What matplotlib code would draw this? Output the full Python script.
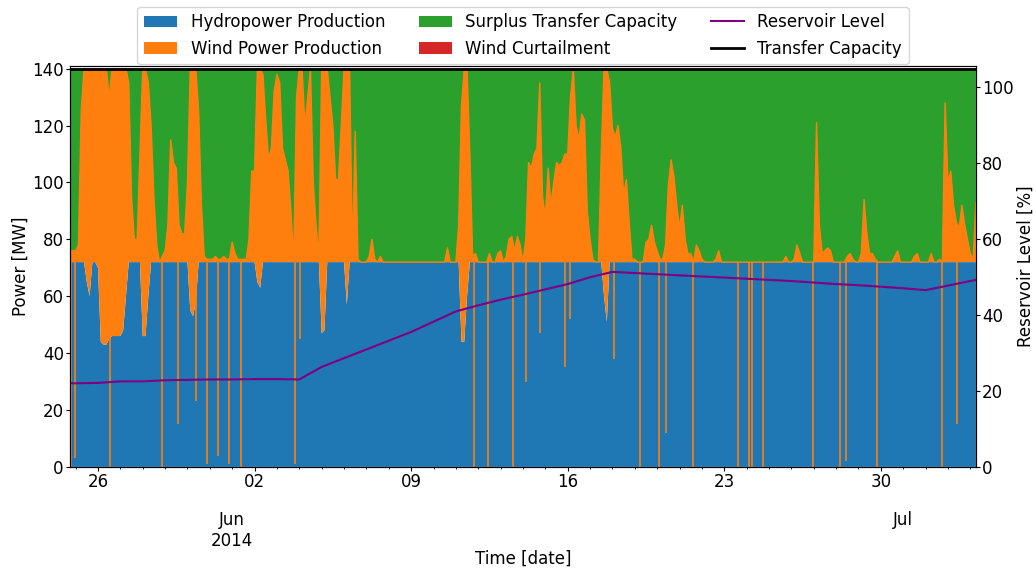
import matplotlib
matplotlib.use("Agg")
import matplotlib.pyplot as plt
import matplotlib.dates as mdates
from matplotlib.ticker import FuncFormatter
import numpy as np
import pandas as pd

plt.rcParams['font.size'] = 12

# 3-hourly samples, 2014-05-24 18:00 -> 2014-07-04 06:00
times = pd.date_range('2014-05-24 18:00', '2014-07-04 06:00', freq='3h')

hydro_mw = [
    72, 72,                              # May 24 (18h, 21h)
    72, 72, 72, 72, 65, 60, 72, 72,      # May 25
    70, 44, 43, 43, 45, 46, 46, 46,      # May 26
    46, 48, 60, 72, 72, 72, 72, 72,      # May 27
    46, 46, 60, 72, 72, 72, 72, 72,      # May 28
    72, 72, 72, 72, 72, 72, 72, 72,      # May 29
    72, 55, 53, 58, 72, 72, 72, 72,      # May 30
    72, 72, 72, 72, 72, 72, 72, 72,      # May 31
    72, 72, 72, 72, 72, 72, 72, 72,      # Jun 1
    72, 65, 63, 72, 72, 72, 72, 72,      # Jun 2
    72, 72, 72, 72, 72, 72, 72, 72,      # Jun 3
    72, 72, 72, 72, 72, 72, 72, 72,      # Jun 4
    47, 48, 72, 72, 72, 72, 72, 72,      # Jun 5
    72, 57, 72, 72, 72, 72, 72, 72,      # Jun 6
    72, 72, 72, 72, 72, 72, 72, 72,      # Jun 7
    72, 72, 72, 72, 72, 72, 72, 72,      # Jun 8
    72, 72, 72, 72, 72, 72, 72, 72,      # Jun 9
    72, 72, 72, 72, 72, 72, 72, 72,      # Jun 10
    72, 72, 44, 44, 60, 72, 72, 72,      # Jun 11
    72, 72, 72, 72, 72, 72, 72, 72,      # Jun 12
    72, 72, 72, 72, 72, 72, 72, 72,      # Jun 13
    72, 72, 72, 72, 72, 72, 72, 72,      # Jun 14
    72, 72, 72, 72, 72, 72, 72, 72,      # Jun 15
    72, 72, 72, 72, 72, 72, 72, 72,      # Jun 16
    72, 72, 72, 72, 72, 60, 51, 72,      # Jun 17
    72, 72, 72, 72, 72, 72, 72, 72,      # Jun 18
    72, 72, 72, 72, 72, 72, 72, 72,      # Jun 19
    72, 72, 72, 72, 72, 72, 72, 72,      # Jun 20
    72, 72, 72, 72, 72, 72, 72, 72,      # Jun 21
    72, 72, 72, 72, 72, 72, 72, 72,      # Jun 22
    72, 72, 72, 72, 72, 72, 72, 72,      # Jun 23
    72, 72, 72, 72, 72, 72, 72, 72,      # Jun 24
    72, 72, 72, 72, 72, 72, 72, 72,      # Jun 25
    72, 72, 72, 72, 72, 72, 72, 72,      # Jun 26
    72, 72, 72, 72, 72, 72, 72, 72,      # Jun 27
    72, 72, 72, 72, 72, 72, 72, 72,      # Jun 28
    72, 72, 72, 72, 72, 72, 72, 72,      # Jun 29
    72, 72, 72, 72, 72, 72, 72, 72,      # Jun 30
    72, 72, 72, 72, 72, 72, 72, 72,      # Jul 1
    72, 72, 72, 72, 72, 72, 72, 72,      # Jul 2
    72, 72, 72, 72, 72, 72, 72, 72,      # Jul 3
    72, 72, 72,                          # Jul 4 (0h, 3h, 6h)
]

wind_mw = [
    4, 4,                                # May 24
    4, 6, 53, 68, 75, 80, 68, 68,        # May 25
    70, 96, 97, 97, 85, 94, 94, 94,      # May 26
    94, 92, 80, 63, 23, 8, 8, 38,        # May 27
    94, 94, 75, 48, 23, 6, 0, 2,         # May 28
    4, 13, 43, 35, 33, 13, 10, 10,       # May 29
    28, 85, 87, 82, 53, 20, 2, 1,        # May 30
    1, 1, 2, 1, 1, 2, 1, 1,              # May 31
    7, 3, 1, 1, 1, 1, 8, 32,             # Jun 1
    32, 75, 77, 66, 50, 36, 40, 60,      # Jun 2
    66, 63, 40, 36, 32, 18, 1, 58,       # Jun 3
    68, 68, 48, 58, 68, 28, 13, 2,       # Jun 4
    93, 92, 68, 58, 48, 29, 29, 48,      # Jun 5
    68, 83, 68, 3, 46, 1, 0, 0,          # Jun 6
    0, 2, 8, 1, 0, 2, 0, 0,              # Jun 7
    0, 0, 0, 0, 0, 0, 0, 0,              # Jun 8
    0, 0, 0, 0, 0, 0, 0, 0,              # Jun 9
    0, 0, 0, 0, 0, 5, 0, 0,              # Jun 10
    0, 13, 83, 96, 80, 38, 2, 3,         # Jun 11
    0, 0, 0, 0, 3, 0, 0, 3,              # Jun 12
    4, 0, 2, 8, 9, 4, 9, 6,              # Jun 13
    0, 8, 35, 33, 38, 40, 63, 23,        # Jun 14
    16, 33, 20, 28, 35, 34, 35, 38,      # Jun 15
    38, 58, 68, 48, 43, 52, 50, 18,      # Jun 16
    8, 1, 0, 0, 38, 80, 89, 63,          # Jun 17
    47, 44, 48, 40, 24, 29, 14, 1,       # Jun 18
    1, 0, 0, 0, 7, 8, 13, 7,             # Jun 19
    4, 1, 1, 6, 27, 36, 30, 20,          # Jun 20
    12, 20, 8, 3, 3, 0, 6, 4,            # Jun 21
    1, 0, 0, 0, 0, 1, 4, 0,              # Jun 22
    0, 0, 0, 0, 0, 0, 0, 0,              # Jun 23
    0, 0, 0, 0, 0, 0, 0, 0,              # Jun 24
    0, 0, 0, 0, 0, 0, 2, 0,              # Jun 25
    0, 1, 6, 3, 0, 0, 0, 0,              # Jun 26
    0, 49, 13, 3, 4, 5, 4, 0,            # Jun 27
    0, 0, 0, 0, 2, 3, 1, 0,              # Jun 28
    0, 3, 22, 10, 3, 3, 1, 0,            # Jun 29
    0, 0, 0, 0, 0, 2, 4, 0,              # Jun 30
    0, 0, 0, 0, 2, 3, 0, 0,              # Jul 1
    0, 0, 3, 0, 0, 1, 0, 56,             # Jul 2
    28, 32, 20, 14, 12, 20, 13, 8,       # Jul 3
    3, 1, 21,                            # Jul 4
]

transfer_capacity = 140
hydro_rated = 72

# short hydro outages (single hours), level the hydro output dropped to
spike_times = pd.to_datetime([
    '2014-05-24 19:00', '2014-05-24 23:00', '2014-05-26 12:30', '2014-05-28 21:00',
    '2014-05-29 14:00', '2014-05-30 09:30', '2014-05-30 20:45', '2014-05-31 08:30',
    '2014-05-31 20:30', '2014-06-01 09:30', '2014-06-03 19:30', '2014-06-04 01:00',
    '2014-06-11 19:45', '2014-06-12 10:45', '2014-06-13 13:30', '2014-06-14 03:30',
    '2014-06-14 18:30', '2014-06-15 21:30', '2014-06-16 02:45', '2014-06-18 01:30',
    '2014-06-19 05:30', '2014-06-20 02:00', '2014-06-20 09:45', '2014-06-21 14:30',
    '2014-06-23 14:45', '2014-06-24 02:30', '2014-06-24 06:00', '2014-06-24 18:00',
    '2014-06-26 23:30', '2014-06-28 04:30', '2014-06-28 10:30', '2014-06-29 20:00',
    '2014-07-02 17:30', '2014-07-03 09:30'])
spike_levels = [0, 3, 0, 0, 15, 23, 1, 4, 1, 0, 1, 45, 0, 0, 0, 30, 47, 35, 52, 38,
                0, 0, 12, 0, 0, 0, 0, 0, 0, 0, 2, 0, 0, 15]

reservoir_times = pd.to_datetime(['2014-05-24 18:00']
                                 + list(pd.date_range('2014-05-25', '2014-07-04', freq='D'))
                                 + ['2014-07-04 06:00'])
reservoir_level = [
    22.0,
    22.0, 22.1, 22.5, 22.5, 22.8, 22.9, 23.0,              # May 25-31
    23.0, 23.1, 23.1, 23.0, 26.3, 28.6, 30.9, 33.2, 35.5,  # Jun 1-9
    38.2, 40.9, 42.5, 44.0, 45.3, 46.7, 48.1, 49.9, 51.3,  # Jun 10-18
    51.0, 50.7, 50.4, 50.1, 49.8, 49.5, 49.2, 48.9, 48.5,  # Jun 19-27
    48.1, 47.8, 47.4,                                      # Jun 28-30
    47.0, 46.5, 47.7, 48.9,                                # Jul 1-4
    49.2,
]

assert len(hydro_mw) == len(times) and len(wind_mw) == len(times)

x = times.to_numpy()
hydro = np.array(hydro_mw, dtype=float)
wind = np.array(wind_mw, dtype=float)
surplus = np.clip(transfer_capacity - hydro - wind, 0, None)
curtailment = np.clip(hydro + wind - transfer_capacity, 0, None)

fig, ax = plt.subplots(figsize=(10.36, 5.68), dpi=100)
fig.subplots_adjust(left=0.0676, right=0.942, bottom=0.178, top=0.884)

polys = ax.stackplot(x, hydro, wind, surplus, curtailment,
                     colors=['tab:blue', 'tab:orange', 'tab:green', 'tab:red'],
                     labels=['Hydropower Production', 'Wind Power Production',
                             'Surplus Transfer Capacity', 'Wind Curtailment'])
ax.plot(x, hydro + wind, color='tab:orange', lw=1)
ax.vlines(spike_times.to_numpy(), spike_levels, hydro_rated, color='tab:orange', lw=1.2)
cap_line, = ax.plot(x, np.full(len(x), transfer_capacity), color='black', lw=2,
                    label='Transfer Capacity')

ax.set_ylim(0, 141)
ax.set_yticks(range(0, 141, 20))
ax.set_ylabel('Power [MW]', labelpad=2)
ax.set_xlabel('Time [date]', labelpad=0)

ax2 = ax.twinx()
res_line, = ax2.plot(reservoir_times.to_numpy(), reservoir_level, color='purple', lw=1.5,
                     label='Reservoir Level')
ax2.set_ylim(0, 105.5)
ax2.set_ylabel('Reservoir Level [%]', labelpad=2)

ax.set_xlim(x[0], x[-1])

# date ticks: weekly (Mondays) day numbers, daily minor ticks, month names below
ax.xaxis.set_major_locator(mdates.WeekdayLocator(byweekday=mdates.MO))
ax.xaxis.set_major_formatter(mdates.DateFormatter('%d'))
ax.xaxis.set_minor_locator(mdates.DayLocator())
first_month = (times[0] + pd.offsets.MonthBegin(1)).month


def month_label(val, pos):
    d = mdates.num2date(val)
    if d.day != 1:
        return ''
    lab = d.strftime('%b')
    if d.month == first_month:
        lab += '\n' + d.strftime('%Y')
    return lab


ax.xaxis.set_minor_formatter(FuncFormatter(month_label))

for a in (ax, ax2):
    a.tick_params(which='major', length=3, pad=1.5)
    a.tick_params(which='minor', length=1.7)
ax.tick_params(axis='x', which='minor', pad=30)

handles = list(polys) + [res_line, cap_line]
labels = [h.get_label() for h in handles]
ax.legend(handles, labels, ncol=3, loc='lower center', bbox_to_anchor=(0.5, 1.0),
          borderaxespad=0.1)

plt.savefig('out.png')
